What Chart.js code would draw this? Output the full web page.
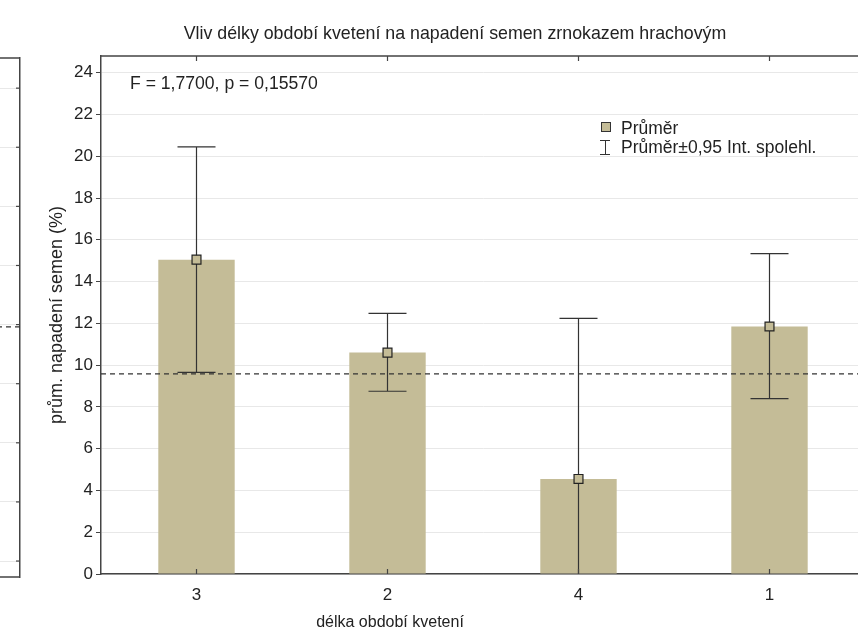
<!DOCTYPE html>
<html>
<head>
<meta charset="utf-8">
<script src="https://cdn.jsdelivr.net/npm/chart.js@4.4.1/dist/chart.umd.min.js"></script>
<style>
  html, body { margin: 0; padding: 0; background: #fff; overflow: hidden; width: 858px; height: 635px; }
  body { position: relative; font-family: "Liberation Sans", Arial, sans-serif; color: #222; }
  canvas { position: absolute; top: 0; }
  #side { left: -300px; }
  #main { left: 0; }
  .txt { position: absolute; white-space: nowrap; line-height: 20px; }
  .sq { position: absolute; width: 8px; height: 8px; background: #c4bc97; border: 1px solid #333; }
  .ibeam { position: absolute; width: 10px; height: 13px; border-top: 1px solid #333; border-bottom: 1px solid #333; }
  .ibeam:after { content: ""; position: absolute; left: 4.5px; top: 0; width: 1px; height: 13px; background: #333; }
</style>
</head>
<body>
<canvas id="side" width="321" height="635"></canvas>
<canvas id="main" width="910" height="635"></canvas>

<div class="txt" style="left:455px; top:23px; font-size:17.8px; transform:translateX(-50%);">Vliv délky období kvetení na napadení semen zrnokazem hrachovým</div>
<div class="txt" style="left:130px; top:73px; font-size:17.6px;">F = 1,7700, p = 0,15570</div>
<div class="sq" style="left:601px; top:122px;"></div>
<div class="txt" style="left:621px; top:118px; font-size:17.5px;">Průměr</div>
<div class="ibeam" style="left:600px; top:140px;"></div>
<div class="txt" style="left:621px; top:137px; font-size:17.5px;">Průměr±0,95 Int. spolehl.</div>
<div class="txt" style="left:390px; top:612px; font-size:16px; transform:translateX(-50%);">délka období kvetení</div>

<script>
// values
const categories = ['3', '2', '4', '1'];
const means = [15.05, 10.6, 4.55, 11.85];
const ciLower = [9.65, 8.75, -3.1, 8.4];   // lower end of 4 is below the axis
const ciUpper = [20.45, 12.48, 12.24, 15.34];
const grandMean = 9.58;
const yMin = 0, yMax = 24.8, yStep = 2;

// neighbouring chart, only its right edge shows
const sideMean = 7.92;
const sideMin = -0.54, sideMax = 17.02;

const barColor = '#c4bc97';
const ink = '#333';

Chart.defaults.font.family = '"Liberation Sans", Arial, sans-serif';
Chart.defaults.color = '#222';

function hline(ctx, area, y) {
  ctx.save();
  ctx.beginPath();
  ctx.rect(area.left, area.top, area.right - area.left, area.bottom - area.top);
  ctx.clip();
  ctx.strokeStyle = ink;
  ctx.lineWidth = 1.3;
  ctx.setLineDash([5, 4]);
  ctx.beginPath();
  ctx.moveTo(area.left, y);
  ctx.lineTo(area.right, y);
  ctx.stroke();
  ctx.restore();
}

const errorBars = {
  id: 'errorBars',
  afterDatasetDraw(chart, args) {
    if (args.index !== 0) return;
    const { ctx, chartArea: a, scales: { x, y } } = chart;
    ctx.save();
    ctx.beginPath();
    ctx.rect(a.left, a.top, a.right - a.left, a.bottom - a.top);
    ctx.clip();
    ctx.strokeStyle = ink;
    ctx.lineWidth = 1.2;
    categories.forEach((c, i) => {
      const px = x.getPixelForValue(i);
      const lo = y.getPixelForValue(ciLower[i]);
      const hi = y.getPixelForValue(ciUpper[i]);
      ctx.beginPath();
      ctx.moveTo(px, lo); ctx.lineTo(px, hi);
      ctx.moveTo(px - 19, lo); ctx.lineTo(px + 19, lo);
      ctx.moveTo(px - 19, hi); ctx.lineTo(px + 19, hi);
      ctx.stroke();
    });
    ctx.restore();
  }
};

const mainFrame = {
  id: 'mainFrame',
  afterDatasetsDraw(chart) {
    const { ctx, chartArea: a, scales: { x, y } } = chart;
    hline(ctx, a, y.getPixelForValue(grandMean));
    ctx.save();
    ctx.strokeStyle = '#444';
    ctx.lineWidth = 1.5;
    ctx.beginPath();
    ctx.moveTo(a.left, a.top); ctx.lineTo(a.right, a.top); ctx.lineTo(a.right, a.bottom);
    ctx.stroke();
    ctx.lineWidth = 1.2;
    categories.forEach((c, i) => {
      const px = x.getPixelForValue(i);
      ctx.beginPath();
      ctx.moveTo(px, a.top); ctx.lineTo(px, a.top + 5);
      ctx.moveTo(px, a.bottom); ctx.lineTo(px, a.bottom - 5);
      ctx.stroke();
    });
    ctx.restore();
  }
};

new Chart(document.getElementById('main'), {
  type: 'bar',
  data: {
    labels: categories,
    datasets: [
      {
        label: 'Průměr',
        data: means,
        backgroundColor: barColor,
        borderWidth: 0,
        barPercentage: 0.40,
        categoryPercentage: 1,
        order: 2
      },
      {
        type: 'line',
        label: 'Průměr',
        data: means,
        showLine: false,
        pointStyle: 'rect',
        pointRadius: 6.3,
        pointBackgroundColor: barColor,
        pointBorderColor: '#222',
        pointBorderWidth: 1.2,
        order: 1
      }
    ]
  },
  options: {
    responsive: false,
    animation: false,
    events: [],
    layout: { padding: { left: 0, right: 45, top: 56, bottom: 0 } },
    plugins: {
      legend: { display: false },
      tooltip: { enabled: false },
      title: { display: false }
    },
    scales: {
      x: {
        offset: true,
        grid: { display: false, drawTicks: false },
        border: { display: true, color: '#444', width: 1.5 },
        ticks: { font: { size: 17 }, color: '#222', padding: 11 },
        afterFit(s) { s.height = 61; }
      },
      y: {
        min: yMin,
        max: yMax,
        ticks: { stepSize: yStep, includeBounds: false, font: { size: 17 }, color: '#222', padding: 3 },
        grid: { color: '#e8e8e8', tickColor: '#444', tickLength: 5, lineWidth: 1 },
        border: { color: '#444', width: 1.5 },
        title: {
          display: true,
          text: 'prům. napadení semen (%)',
          font: { size: 18 },
          color: '#222',
          padding: { top: 46, bottom: 0 }
        },
        afterFit(s) { s.width = 101; }
      }
    }
  },
  plugins: [errorBars, mainFrame]
});

const sideFrame = {
  id: 'sideFrame',
  afterDatasetsDraw(chart) {
    const { ctx, chartArea: a, scales: { y } } = chart;
    hline(ctx, a, y.getPixelForValue(sideMean));
    ctx.save();
    ctx.strokeStyle = '#444';
    ctx.lineWidth = 1.5;
    ctx.beginPath();
    ctx.moveTo(a.left, a.top); ctx.lineTo(a.right, a.top);
    ctx.moveTo(a.left, a.bottom); ctx.lineTo(a.right, a.bottom);
    ctx.stroke();
    ctx.lineWidth = 1.2;
    y.ticks.forEach(t => {
      const py = y.getPixelForValue(t.value);
      ctx.beginPath();
      ctx.moveTo(a.right - 4, py); ctx.lineTo(a.right, py);
      ctx.stroke();
    });
    ctx.restore();
  }
};

new Chart(document.getElementById('side'), {
  type: 'bar',
  data: { labels: [], datasets: [] },
  options: {
    responsive: false,
    animation: false,
    events: [],
    layout: { padding: { left: 0, right: 1, top: 58, bottom: 58 } },
    plugins: { legend: { display: false }, tooltip: { enabled: false } },
    scales: {
      x: { display: false },
      y: {
        position: 'right',
        min: sideMin,
        max: sideMax,
        ticks: { display: false, stepSize: 2, includeBounds: false },
        grid: { color: '#e8e8e8', drawTicks: false },
        border: { color: '#444', width: 1.5 },
        afterFit(s) { s.width = 0; }
      }
    }
  },
  plugins: [sideFrame]
});
</script>
</body>
</html>
